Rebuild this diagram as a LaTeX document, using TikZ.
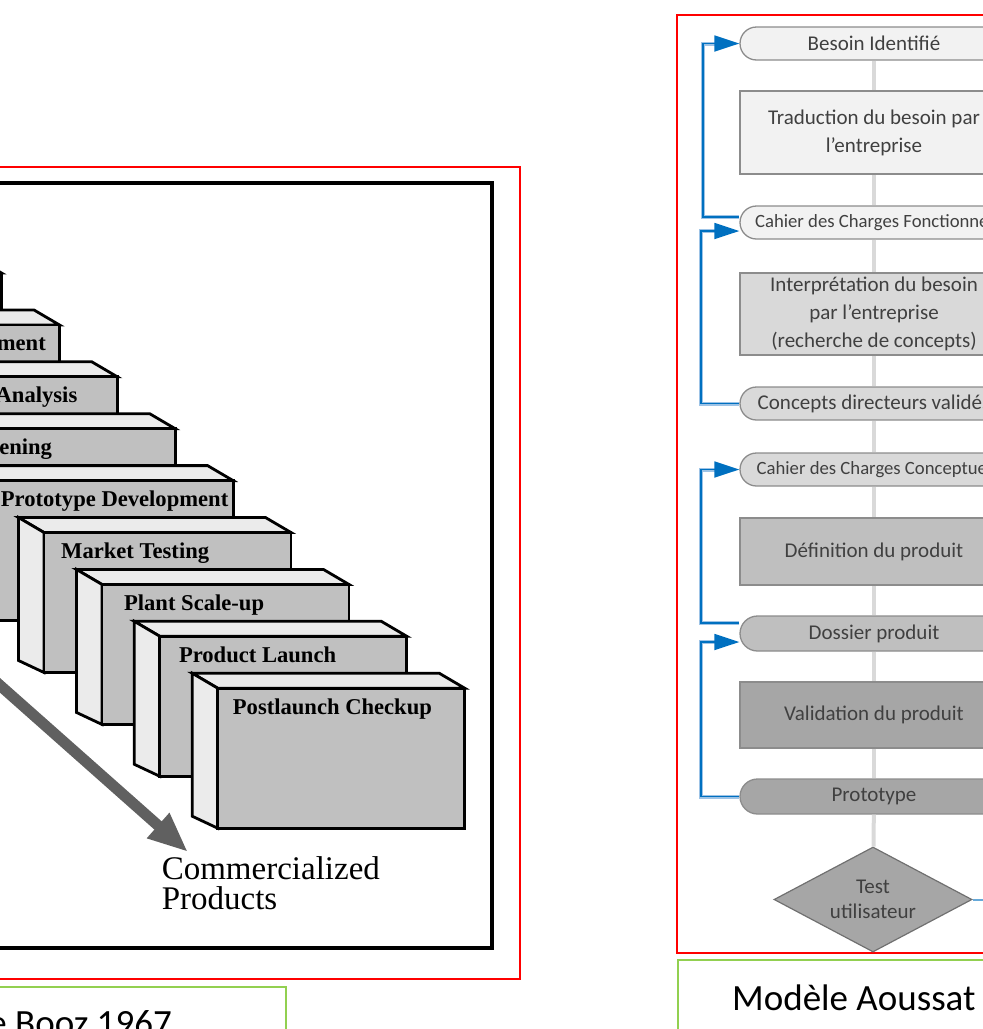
\documentclass[tikz,border=0pt]{standalone}
\usepackage{fontspec}
\setmainfont{Liberation Serif}
\newfontfamily\calib{Carlito}
\usetikzlibrary{arrows.meta, shapes.geometric}

\definecolor{frontg}{HTML}{C0C0C0}
\definecolor{topg}{HTML}{EBEBEB}
\definecolor{arrowg}{HTML}{606060}
\definecolor{captiong}{HTML}{92D050}
\definecolor{lvlA}{HTML}{F2F2F2}
\definecolor{lvlB}{HTML}{D9D9D9}
\definecolor{lvlC}{HTML}{BFBFBF}
\definecolor{lvlD}{HTML}{A6A6A6}
\definecolor{borderg}{HTML}{8C8C8C}
\definecolor{linkg}{HTML}{D9D9D9}
\definecolor{textg}{HTML}{404040}
\definecolor{fbdark}{HTML}{0070C0}
\definecolor{fblight}{HTML}{9DC3E6}

\begin{document}
\begin{tikzpicture}[x=1pt, y=-1pt,
  stepface/.style={draw=black, line width=2.8pt, fill=#1},
  steplabel/.style={inner sep=0pt, font=\fontsize{22.6}{27}\selectfont\bfseries},
  bigarrow/.style={draw=arrowg, line width=11pt, -{Triangle[length=40pt,width=31pt]}},
  term/.style={draw=borderg, line width=1.3pt, fill=#1, rounded corners=16.5pt,
    minimum width=268pt, minimum height=33pt, inner sep=0pt, text=textg,
    font=\calib\fontsize{21}{28}\selectfont},
  proc/.style={draw=borderg, line width=1.5pt, fill=#1, minimum width=268pt,
    inner sep=0pt, align=center, text=textg, font=\calib\fontsize{21}{28}\selectfont},
  smalltext/.style={font=\calib\fontsize{18.7}{22}\selectfont},
  link/.style={draw=linkg, line width=4pt},
  fb/.style={draw=fbdark, line width=1.8pt, -{Triangle[length=25pt,width=16pt]},
    preaction={draw=fblight, line width=4pt, -, shorten >=22pt}},
  caption/.style={inner sep=0pt, font=\calib\fontsize{37}{44}\selectfont}]
  \useasboundingbox (0,0) rectangle (983,1029);
  \clip (0,0) rectangle (983,1029);

  % cadres
  \draw[red, line width=1.5pt] (-10,167) -| (520,979) -- (-10,979);
  \draw[line width=3.6pt] (-10,183) -| (492,948) -- (-10,948);
  \draw[captiong, line width=1.5pt] (-10,987) -| (286,1040);
  \draw[red, line width=1.5pt] (995,15) -| (677,953) -- (995,953);
  \draw[captiong, line width=1.5pt] (995,960) -| (678,1040);

  % marches de l'escalier, de l'arriere vers l'avant
  \foreach \k in {0,...,8} {
    \pgfmathsetmacro\fx{1.5+57.9*\k-247}
    \pgfmathsetmacro\fy{273+51.9*\k}
    \coordinate (s\k) at (\fx,\fy);
    \draw[stepface=topg] (s\k) -- ++(247,0) -- ++(-25.5,-15) -- ++(-247,0) -- cycle;
    \draw[stepface=topg] (s\k) -- ++(-25.5,-15) -- ++(0,143) -- (\fx,\fy+140) -- cycle;
    \draw[stepface=frontg] (s\k) rectangle ++(247,140);
  }
  \node[steplabel, anchor=base east] (stepA) at ([shift={(233.6,26)}]s1) {ment};
  \node[steplabel, anchor=base east] (stepB) at ([shift={(207.2,26)}]s2) {Analysis};
  \node[steplabel, anchor=base east] (stepC) at ([shift={(124,26)}]s3) {ening};
  \node[steplabel, anchor=base east] (stepD) at ([shift={(242.4,26)}]s4) {Prototype Development};
  \node[steplabel, anchor=base west] (stepE) at ([shift={(17,26)}]s5) {Market Testing};
  \node[steplabel, anchor=base west] (stepF) at ([shift={(22,26)}]s6) {Plant Scale-up};
  \node[steplabel, anchor=base west] (stepG) at ([shift={(19,26)}]s7) {Product Launch};
  \node[steplabel, anchor=base west] (stepH) at ([shift={(15,26)}]s8) {Postlaunch Checkup};

  \coordinate (arrS) at (-120,579);
  \coordinate (arrT) at (188,852);
  \draw[bigarrow] (arrS) -- (arrT);
  \node[anchor=north west, inner sep=0pt, align=left,
        font=\fontsize{33}{30}\selectfont] (commerc) at (161.6,856.5) {Commercialized\\Products};
  \node[caption, anchor=base east] (boozcap) at (172,1035) {e Booz 1967};

  % modele Aoussat
  \node[term=lvlA] (besoin) at (874,43.5) {Besoin Identifié};
  \node[proc=lvlA, minimum height=83pt] (trad) at (874,132.5) {Traduction du besoin par\\l’entreprise};
  \node[term=lvlA, smalltext] (cahF) at (874,222.5) {Cahier des Charges Fonctionnel};
  \node[proc=lvlB, minimum height=82pt] (interp) at (874,314)
    {Interprétation du besoin\\par l’entreprise\\(recherche de concepts)};
  \node[term=lvlB] (concepts) at (874,403.5) {Concepts directeurs validés};
  \node[term=lvlB, smalltext] (cahC) at (874,469.5) {Cahier des Charges Conceptuel};
  \node[proc=lvlC, minimum height=67pt] (defin) at (874,551.5) {Définition du produit};
  \node[term=lvlC, minimum height=35pt, rounded corners=17.5pt] (dossier) at (874,633.5) {Dossier produit};
  \node[proc=lvlD, minimum height=66pt] (valid) at (874,715) {Validation du produit};
  \node[term=lvlD, minimum height=35pt, rounded corners=17.5pt] (proto) at (874,796.5) {Prototype};
  \node[diamond, draw=borderg!80!black, line width=1.2pt, fill=lvlD, minimum width=198pt,
        minimum height=105pt, aspect=1.886, inner sep=0pt, align=center, text=textg,
        font=\calib\fontsize{21}{25}\selectfont] (test) at (873,899.5) {Test\\utilisateur};
  \node[caption, anchor=base west] (aoussatcap) at (732,1010) {Modèle Aoussat};

  \foreach \a/\b in {besoin/trad, trad/cahF, cahF/interp, interp/concepts, concepts/cahC,
                     cahC/defin, defin/dossier, dossier/valid, valid/proto, proto/test}
    \draw[link] (\a) -- (\b);

  \draw[fb] ([yshift=5.5pt]cahF.west) -- ++(-36,0) |- (besoin.west);
  \draw[fb] (concepts.west) -- ++(-38,0) |- ([yshift=-8.5pt]cahF.west);
  \draw[fb] ([yshift=10.5pt]dossier.west) -- ++(-38,0) |- (cahC.west);
  \draw[fb] (proto.west) -- ++(-38,0) |- ([yshift=-8.5pt]dossier.west);
  \coordinate (testout) at (995,899.5);
  \draw[draw=fbdark!60, line width=2pt] (test.east) -- (testout);
\end{tikzpicture}
\end{document}
